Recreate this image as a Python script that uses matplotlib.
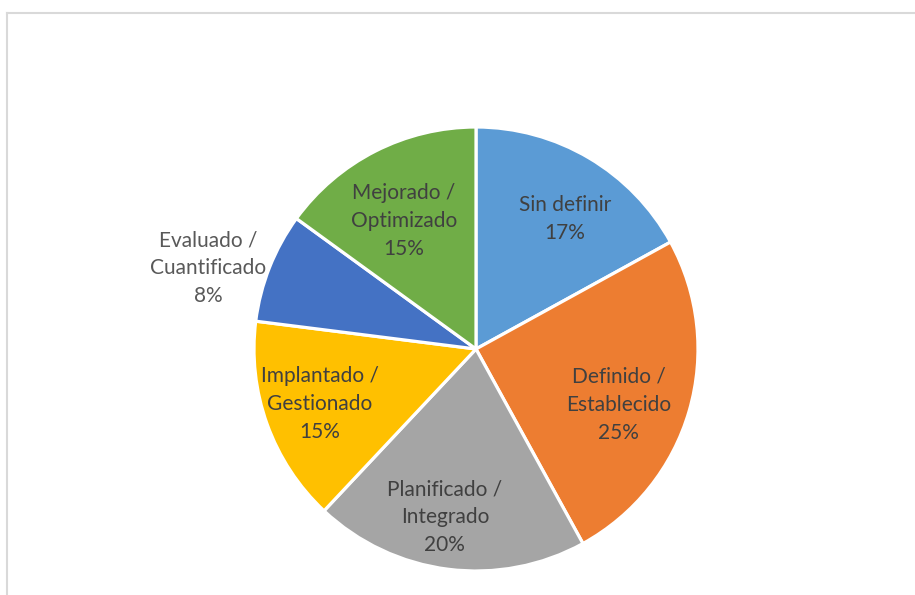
import numpy as np
import matplotlib.pyplot as plt
from matplotlib.lines import Line2D

plt.rcParams['font.family'] = ['Lato', 'DejaVu Sans']

etapas = ['Sin definir', 'Definido /\nEstablecido', 'Planificado /\nIntegrado',
          'Implantado /\nGestionado', 'Evaluado /\nCuantificado', 'Mejorado /\nOptimizado']
porcentajes = [17, 25, 20, 15, 8, 15]
colores = ['#5B9BD5', '#ED7D31', '#A5A5A5', '#FFC000', '#4472C4', '#70AD47']
# label placement: radius fraction and angular shift (deg) from the wedge middle
dist_etiqueta = [0.71, 0.69, 0.77, 0.745, 1.26, 0.66]
giro_etiqueta = [-3.8, -5.2, -3.3, -0.4, 4.8, 2.5]

fig = plt.figure(figsize=(9.15, 5.95), dpi=100)
ax = fig.add_axes([0, 0, 1, 1])

centro = (476, 246)
radio = 222
wedges, _ = ax.pie(porcentajes, colors=colores, startangle=90, counterclock=False,
                   center=centro, radius=radio,
                   wedgeprops=dict(edgecolor='white', linewidth=2.3))

# pie() resets the limits, so fix them afterwards
ax.set_xlim(0, 915)
ax.set_ylim(0, 595)
ax.set_aspect('equal')
ax.axis('off')

for w, txt, pct, d, g in zip(wedges, etapas, porcentajes, dist_etiqueta, giro_etiqueta):
    ang = np.deg2rad((w.theta1 + w.theta2) / 2 + g)
    x = centro[0] + d * radio * np.cos(ang)
    y = centro[1] + d * radio * np.sin(ang)
    color = '#595959' if d > 1 else '#404040'
    ax.text(x, y, f'{txt}\n{pct}%', ha='center', va='center', fontsize=15,
            color=color, linespacing=1.5)

# chart frame (top and left edges)
fig.add_artist(Line2D([6.5 / 915, 1], [1 - 12.5 / 595] * 2, color='#D9D9D9', lw=1.5))
fig.add_artist(Line2D([6.5 / 915] * 2, [0, 1 - 12.5 / 595], color='#D9D9D9', lw=1.5))

fig.savefig('out.png', dpi=100)
